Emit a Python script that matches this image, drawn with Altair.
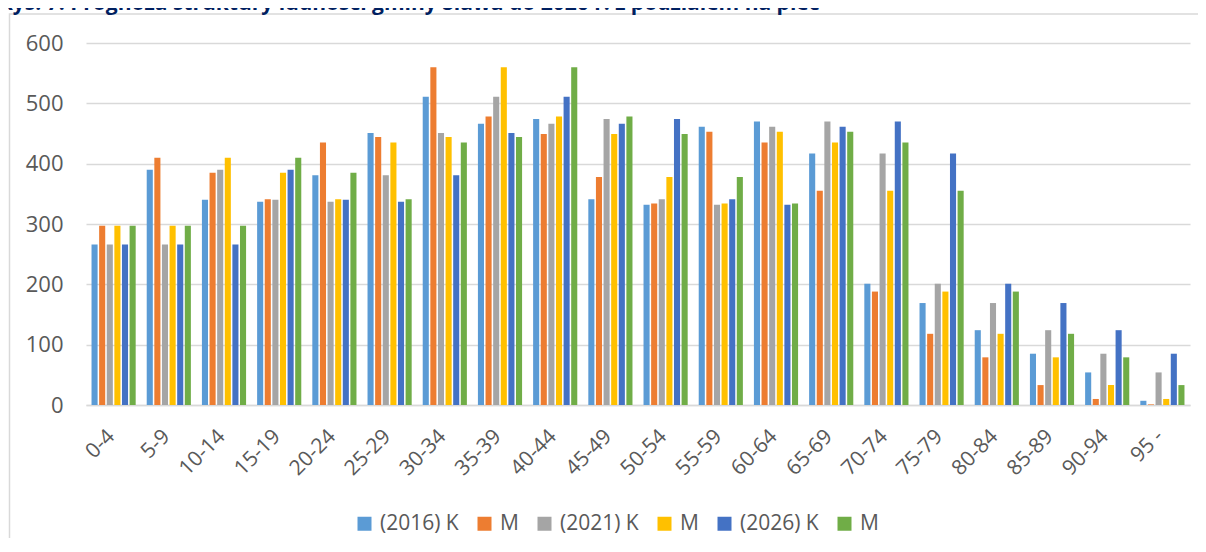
import altair as alt
import pandas as pd

ages = ["0-4", "5-9", "10-14", "15-19", "20-24", "25-29", "30-34", "35-39", "40-44", "45-49",
        "50-54", "55-59", "60-64", "65-69", "70-74", "75-79", "80-84", "85-89", "90-94", "95 -"]
series_names = ["(2016) K", "(2016) M", "(2021) K", "(2021) M", "(2026) K", "(2026) M"]
colors = ["#5B9BD5", "#ED7D31", "#A5A5A5", "#FFC000", "#4472C4", "#70AD47"]

k2016 = [266, 390, 340, 337, 381, 451, 511, 466, 474, 341, 332, 461, 470, 417, 201, 169, 124, 85, 54, 7]
m2016 = [297, 410, 385, 341, 435, 444, 560, 478, 449, 378, 334, 453, 435, 355, 188, 118, 79, 33, 10, 1]
k2021 = [266, 266, 390, 340, 337, 381, 451, 511, 466, 474, 341, 332, 461, 470, 417, 201, 169, 124, 85, 54]
m2021 = [297, 297, 410, 385, 341, 435, 444, 560, 478, 449, 378, 334, 453, 435, 355, 188, 118, 79, 33, 10]
k2026 = [266, 266, 266, 390, 340, 337, 381, 451, 511, 466, 474, 341, 332, 461, 470, 417, 201, 169, 124, 85]
m2026 = [297, 297, 297, 410, 385, 341, 435, 444, 560, 478, 449, 378, 334, 453, 435, 355, 188, 118, 79, 33]

title_text = "Rys. 7. Prognoza struktury ludności gminy Sława do 2026 r. z podziałem na płeć"

rows = []
for name, vals in zip(series_names, [k2016, m2016, k2021, m2021, k2026, m2026]):
    for a, v in zip(ages, vals):
        rows.append({"wiek": a, "seria": name, "liczba": v})
df = pd.DataFrame(rows)

FONT = "Open Sans"
GREY = "#595959"

bars = alt.Chart(df).mark_bar().encode(
    x=alt.X("wiek:N", sort=ages,
            scale=alt.Scale(paddingInner=0.2, paddingOuter=0.1),
            axis=alt.Axis(title=None, ticks=False, domainColor="#d9d9d9", domainWidth=1.5,
                          labelAngle=-45, labelAlign="right", labelBaseline="middle",
                          labelFontSize=21, labelColor=GREY, labelFont=FONT, labelPadding=28,
                          labelOffset=-2)),
    xOffset=alt.XOffset("seria:N", sort=series_names,
                        scale=alt.Scale(paddingInner=0.2, paddingOuter=0)),
    y=alt.Y("liczba:Q", scale=alt.Scale(domain=[0, 600], nice=False),
            axis=alt.Axis(title=None, values=[0, 100, 200, 300, 400, 500, 600], domain=False,
                          ticks=False, gridColor="#d9d9d9", gridWidth=1.3,
                          labelFontSize=22, labelColor=GREY, labelFont=FONT, labelPadding=23)),
    color=alt.Color("seria:N", sort=series_names,
                    scale=alt.Scale(domain=series_names, range=colors),
                    legend=alt.Legend(title=None, orient="none", direction="horizontal",
                                      legendX=268, legendY=470,
                                      symbolType="square", symbolSize=196, symbolStrokeWidth=0,
                                      labelFontSize=21, labelColor=GREY, labelFont=FONT,
                                      labelOffset=5, columnPadding=15, padding=0,
                                      labelExpr="indexof(datum.label, 'M') >= 0 ? 'M' : datum.label")),
)

one = pd.DataFrame({"k": [0]})

frame = alt.Chart(one).mark_rect(fillOpacity=0, stroke="#d9d9d9", strokeWidth=1.5).encode(
    x=alt.value(-76.5), x2=alt.value(1130), y=alt.value(-29), y2=alt.value(700)
)

title = alt.Chart(one).mark_text(
    align="left", baseline="alphabetic", fontSize=21, fontWeight="bold",
    font=FONT, color="#002060"
).encode(x=alt.value(-87), y=alt.value(-33), text=alt.value(title_text))

chart = alt.layer(frame, bars, title).properties(
    width=1104, height=362,
    autosize=alt.AutoSizeParams(type="none"),
    padding={"left": 78, "top": 35, "right": 8, "bottom": 133},
).configure_view(stroke=None)

chart.save("out.html", embed_options={"renderer": "svg", "actions": False})
